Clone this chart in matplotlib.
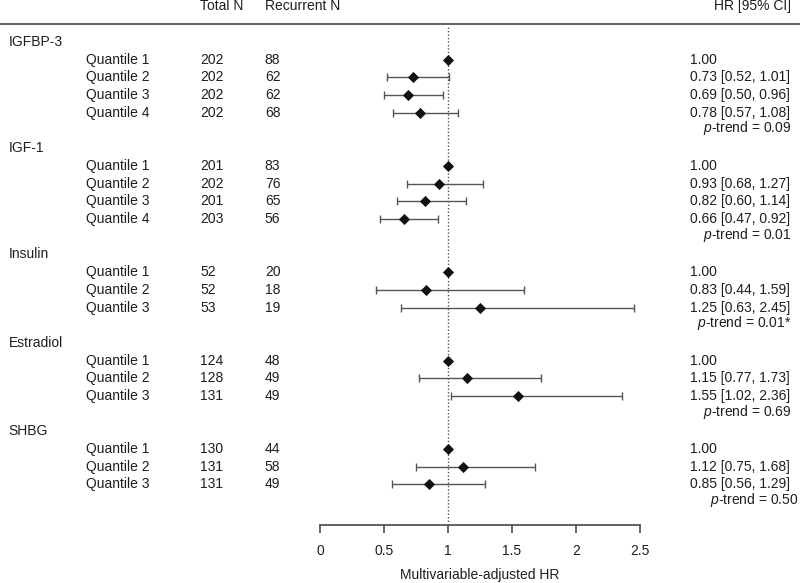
import numpy as np
import matplotlib
matplotlib.use("Agg")
import matplotlib.pyplot as plt

plt.rcParams['font.family'] = ['Liberation Sans', 'DejaVu Sans']
plt.rcParams['mathtext.fontset'] = 'custom'
plt.rcParams['mathtext.it'] = 'Liberation Sans:italic'
plt.rcParams['mathtext.rm'] = 'Liberation Sans'

# data
groups = ["IGFBP-3", "IGF-1", "Insulin", "Estradiol", "SHBG"]
total_n = [[202, 202, 202, 202], [201, 202, 201, 203], [52, 52, 53], [124, 128, 131], [130, 131, 131]]
recurrent_n = [[88, 62, 62, 68], [83, 76, 65, 56], [20, 18, 19], [48, 49, 49], [44, 58, 49]]
hr = [[1.00, 0.73, 0.69, 0.78], [1.00, 0.93, 0.82, 0.66], [1.00, 0.83, 1.25], [1.00, 1.15, 1.55], [1.00, 1.12, 0.85]]
ci_lo = [[np.nan, 0.52, 0.50, 0.57], [np.nan, 0.68, 0.60, 0.47], [np.nan, 0.44, 0.63], [np.nan, 0.77, 1.02], [np.nan, 0.75, 0.56]]
ci_hi = [[np.nan, 1.01, 0.96, 1.08], [np.nan, 1.27, 1.14, 0.92], [np.nan, 1.59, 2.45], [np.nan, 1.73, 2.36], [np.nan, 1.68, 1.29]]
p_trend = ["0.09", "0.01", "0.01*", "0.69", "0.50"]
xticks = [0, 0.5, 1, 1.5, 2, 2.5]

txt = '#1e1e1e'
grey = '#555555'
fs = 10

fig = plt.figure(figsize=(8, 5.83), dpi=100)
ax = fig.add_axes([0, 0, 1, 1])
ax.set_xlim(-2.5, 3.75)
ax.set_ylim(30.565, -2.373)
tr = ax.get_yaxis_transform()  # x in axes fraction, y in rows

# header
ax.text(0.25, -2.03, "Total N", transform=tr, fontsize=fs, color=txt, va='center')
ax.text(0.331, -2.03, "Recurrent N", transform=tr, fontsize=fs, color=txt, va='center')
ax.text(0.989, -2.03, "HR [95% CI]", transform=tr, fontsize=fs, color=txt, va='center', ha='right')
ax.axhline(-1.02, color=grey, lw=1.3)

rows_all, hr_all, lo_all, hi_all = [], [], [], []
row = 0
for g in range(len(groups)):
    ax.text(0.011, row, groups[g], transform=tr, fontsize=fs, color=txt, va='center')
    for q in range(len(hr[g])):
        row += 1
        ax.text(0.1075, row, "Quantile %d" % (q + 1), transform=tr, fontsize=fs, color=txt, va='center')
        ax.text(0.25, row, str(total_n[g][q]), transform=tr, fontsize=fs, color=txt, va='center')
        ax.text(0.331, row, str(recurrent_n[g][q]), transform=tr, fontsize=fs, color=txt, va='center')
        if np.isnan(ci_lo[g][q]):
            lab = "%.2f" % hr[g][q]
        else:
            lab = "%.2f [%.2f, %.2f]" % (hr[g][q], ci_lo[g][q], ci_hi[g][q])
        ax.text(0.863, row, lab, transform=tr, fontsize=fs, color=txt, va='center')
        rows_all.append(row)
        hr_all.append(hr[g][q])
        lo_all.append(ci_lo[g][q])
        hi_all.append(ci_hi[g][q])
    px = 0.998 if g == len(groups) - 1 else 0.989
    ax.text(px, row + 0.88, "$p$-trend = " + p_trend[g], transform=tr, fontsize=fs, color=txt,
            va='center', ha='right')
    row += 2

rows_all = np.array(rows_all, dtype=float)
hr_all = np.array(hr_all)
lo_all = np.array(lo_all)
hi_all = np.array(hi_all)

axis_row = 27.29
ax.plot([1, 1], [-0.85, axis_row], color=grey, lw=1, ls=(0, (1, 1.5)))

m = ~np.isnan(lo_all)
ax.errorbar(hr_all[m], rows_all[m], xerr=[hr_all[m] - lo_all[m], hi_all[m] - hr_all[m]],
            fmt='none', ecolor=grey, elinewidth=1, capsize=3, capthick=1)
ax.plot(hr_all, rows_all, 'D', color='#111111', ms=4.8, mew=0.6, zorder=3)

# x axis
for s in ['left', 'right', 'top']:
    ax.spines[s].set_visible(False)
ax.spines['bottom'].set_position(('data', axis_row))
ax.spines['bottom'].set_bounds(0, 2.5)
ax.spines['bottom'].set_color(grey)
ax.spines['bottom'].set_linewidth(1.3)
ax.set_yticks([])
ax.set_xticks(xticks)
ax.set_xticklabels(["0", "0.5", "1", "1.5", "2", "2.5"])
ax.tick_params(axis='x', direction='out', length=5.8, width=1.3, color=grey,
               labelsize=fs, labelcolor=txt, pad=8)
ax.text(1.25, 30.1, "Multivariable-adjusted HR", fontsize=fs, color=txt, ha='center', va='center')

fig.savefig("out.png", dpi=100)
